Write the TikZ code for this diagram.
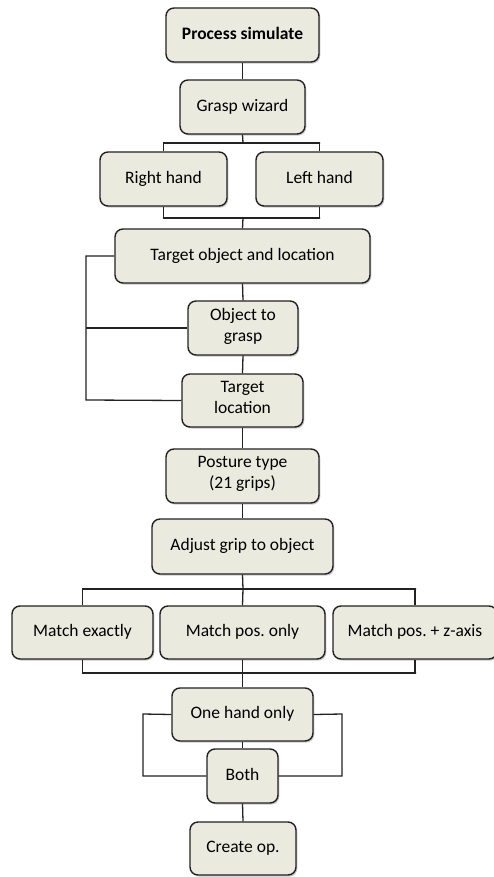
\documentclass[tikz,border=0pt]{standalone}
\usepackage{fontspec}
\setmainfont{Carlito}
\usetikzlibrary{shadows}
\definecolor{boxfill}{HTML}{EBEADF}
\definecolor{boxline}{HTML}{222222}
\tikzset{
  box/.style={draw=boxline, line width=1.4pt, fill=boxfill, rounded corners=8pt,
    align=center, inner sep=0pt, font=\fontsize{17.5}{21}\selectfont\frenchspacing,
    execute at begin node=\strut, execute at end node=\strut,
    drop shadow={shadow xshift=1.3pt, shadow yshift=-1.6pt, opacity=0.35, fill=black!60}},
  conn/.style={draw=boxline, line width=1.3pt}
}
\newcommand{\bx}[6]{% name, x1, y1, x2, y2, text
  \node[box, minimum width=#4pt-#2pt, minimum height=#5pt-#3pt] (#1) at ({(#2+#4)/2*1pt}, {-(#3+#5)/2*1pt}) {#6};}
\begin{document}
\begin{tikzpicture}
\useasboundingbox (0,0) rectangle (493pt,-877pt);
\coordinate (b1l) at (164pt,-143pt);
\coordinate (b1r) at (320pt,-143pt);
\coordinate (b2l) at (164pt,-218pt);
\coordinate (b2r) at (320pt,-218pt);
\coordinate (b2c) at (243pt,-218pt);
\coordinate (b1c) at (243pt,-143pt);
\coordinate (lt) at (86pt,-256pt);
\coordinate (lm) at (86pt,-328pt);
\coordinate (lb) at (86pt,-400pt);
\coordinate (m1l) at (82pt,-589pt);
\coordinate (m1r) at (416pt,-589pt);
\coordinate (m1c) at (243pt,-589pt);
\coordinate (m2l) at (82pt,-673pt);
\coordinate (m2r) at (416pt,-673pt);
\coordinate (m2c) at (243pt,-673pt);
\coordinate (ol) at (143pt,-714pt);
\coordinate (obl) at (143pt,-776pt);
\coordinate (or) at (342pt,-714pt);
\coordinate (obr) at (342pt,-776pt);

\bx{ps}{166}{8}{319}{62}{\textbf{Process simulate}}
\bx{gw}{180}{80}{305}{134}{Grasp wizard}
\bx{rh}{100}{152}{227}{206}{Right hand}
\bx{lh}{256}{152}{383}{206}{Left hand}
\bx{to}{115}{229}{370}{283}{Target object and location}
\bx{og}{188}{301}{298}{355}{Object to\\grasp}
\bx{tl}{182}{374}{303}{427}{Target\\location}
\bx{pt}{166}{449}{319}{503}{Posture type\\(21 grips)}
\bx{ag}{152}{519}{333}{574}{Adjust grip to object}
\bx{me}{12}{606}{153}{659}{Match exactly}
\bx{mp}{160}{606}{325}{659}{Match pos. only}
\bx{mz}{333}{606}{497}{659}{Match pos. + z-axis}
\bx{oh}{172}{688}{313}{741}{One hand only}
\bx{bo}{207}{749}{278}{803}{Both}
\bx{co}{190}{822}{296}{875}{Create op.}

\draw[conn] (ps.south) -- (gw.north);
\draw[conn] (gw.south) -- (b1c);
\draw[conn] (rh.north) |- (b1l) -- (b1r) -| (lh.north);
\draw[conn] (rh.south) |- (b2l) -- (b2r) -| (lh.south);
\draw[conn] (b2c) -- (to.north);
\draw[conn] (to.west) -- (lt) -- (lb) -- (tl.west);
\draw[conn] (lm) -- (og.west);
\draw[conn] (to.south) -- (og.north);
\draw[conn] (og.south) -- (tl.north);
\draw[conn] (tl.south) -- (pt.north);
\draw[conn] (pt.south) -- (ag.north);
\draw[conn] (ag.south) -- (m1c);
\draw[conn] (me.north) |- (m1l) -- (m1r) -| (mz.north);
\draw[conn] (m1c) -- (mp.north);
\draw[conn] (me.south) |- (m2l) -- (m2r) -| (mz.south);
\draw[conn] (mp.south) -- (oh.north);
\draw[conn] (oh.west) -- (ol) -- (obl) -- (bo.west);
\draw[conn] (oh.east) -- (or) -- (obr) -- (bo.east);
\draw[conn] (oh.south) -- (bo.north);
\draw[conn] (bo.south) -- (co.north);
\end{tikzpicture}
\end{document}
